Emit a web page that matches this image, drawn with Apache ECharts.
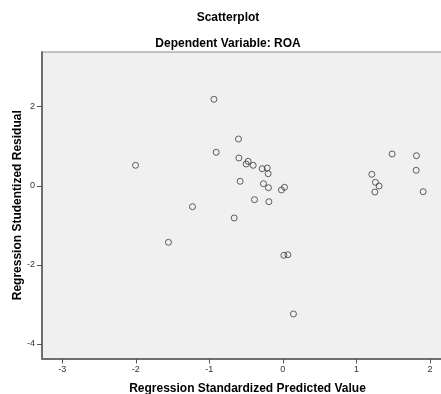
<!DOCTYPE html>
<html>
<head>
<meta charset="utf-8">
<script src="https://cdn.jsdelivr.net/npm/echarts@6/dist/echarts.min.js"></script>
<style>
html,body{margin:0;padding:0;background:#fff;}
#chart{width:441px;height:394px;}
</style>
</head>
<body>
<div id="chart"></div>
<script>
// Regression Standardized Predicted Value (x) and Studentized Residual (y)
const predicted = [-0.938,-0.604,-0.907,-0.598,-0.472,-0.499,-0.404,-0.281,-0.213,-0.200,-0.581,-0.264,-0.196,-0.019,0.022,-0.386,-0.190,-0.662,1.486,1.817,1.813,1.210,1.259,1.309,1.251,1.908,-2.004,-1.229,-1.556,0.014,0.068,0.144];
const residual  = [2.187,1.183,0.847,0.703,0.619,0.551,0.518,0.432,0.450,0.306,0.114,0.053,-0.048,-0.106,-0.038,-0.351,-0.402,-0.814,0.804,0.761,0.392,0.291,0.088,-0.005,-0.157,-0.149,0.518,-0.528,-1.429,-1.757,-1.742,-3.241];
const xTicks = [-3,-2,-1,0,1,2];
const yTicks = [-4,-2,0,2];
const titleMain = 'Scatterplot';
const titleSub = 'Dependent Variable: ROA';
const xName = 'Regression Standardized Predicted Value';
const yName = 'Regression Studentized Residual';

const points = predicted.map((v,i)=>[v, residual[i]]);
const font = '"Liberation Sans", Arial, sans-serif';

const chart = echarts.init(document.getElementById('chart'), null, {renderer:'canvas'});
chart.setOption({
  animation:false,
  backgroundColor:'#ffffff',
  title:[
    {text:titleMain, left:228, top:12, textAlign:'center', padding:0,
     textStyle:{fontFamily:font, fontSize:12, fontWeight:'bold', color:'#000'}},
    {text:titleSub, left:228, top:38, textAlign:'center', padding:0,
     textStyle:{fontFamily:font, fontSize:12, fontWeight:'bold', color:'#000'}}
  ],
  grid:{left:42, top:52, right:-2, bottom:35.5, show:true, backgroundColor:'#f0f0f0', borderColor:'#8c8c8c', borderWidth:1, containLabel:false, outerBoundsMode:'none'},
  xAxis:{
    type:'value', min:-3.276, max:2.178,
    name:xName, nameLocation:'middle', nameGap:24, nameMoveOverlap:false,
    nameTextStyle:{fontFamily:font, fontSize:12, fontWeight:'bold', color:'#000', padding:[0,0,0,10]},
    splitLine:{show:false},
    axisLine:{show:true, onZero:false, lineStyle:{color:'#6e6e6e', width:2}},
    axisTick:{show:true, length:5, customValues:xTicks, lineStyle:{color:'#555'}},
    axisLabel:{customValues:xTicks, margin:7, fontFamily:font, fontSize:9, color:'#333'}
  },
  yAxis:{
    type:'value', min:-4.367, max:3.383,
    name:yName, nameLocation:'middle', nameGap:18, nameRotate:90, nameMoveOverlap:false,
    nameTextStyle:{fontFamily:font, fontSize:12, fontWeight:'bold', color:'#000'},
    splitLine:{show:false},
    axisLine:{show:true, onZero:false, lineStyle:{color:'#6e6e6e', width:2}},
    axisTick:{show:true, length:5, customValues:yTicks, lineStyle:{color:'#555'}},
    axisLabel:{customValues:yTicks, margin:7, fontFamily:font, fontSize:9, color:'#333'}
  },
  series:[{
    type:'scatter', data:points, symbol:'circle', symbolSize:6,
    itemStyle:{color:'rgba(0,0,0,0)', borderColor:'#3a3a3a', borderWidth:1}
  }]
});
</script>
</body>
</html>
